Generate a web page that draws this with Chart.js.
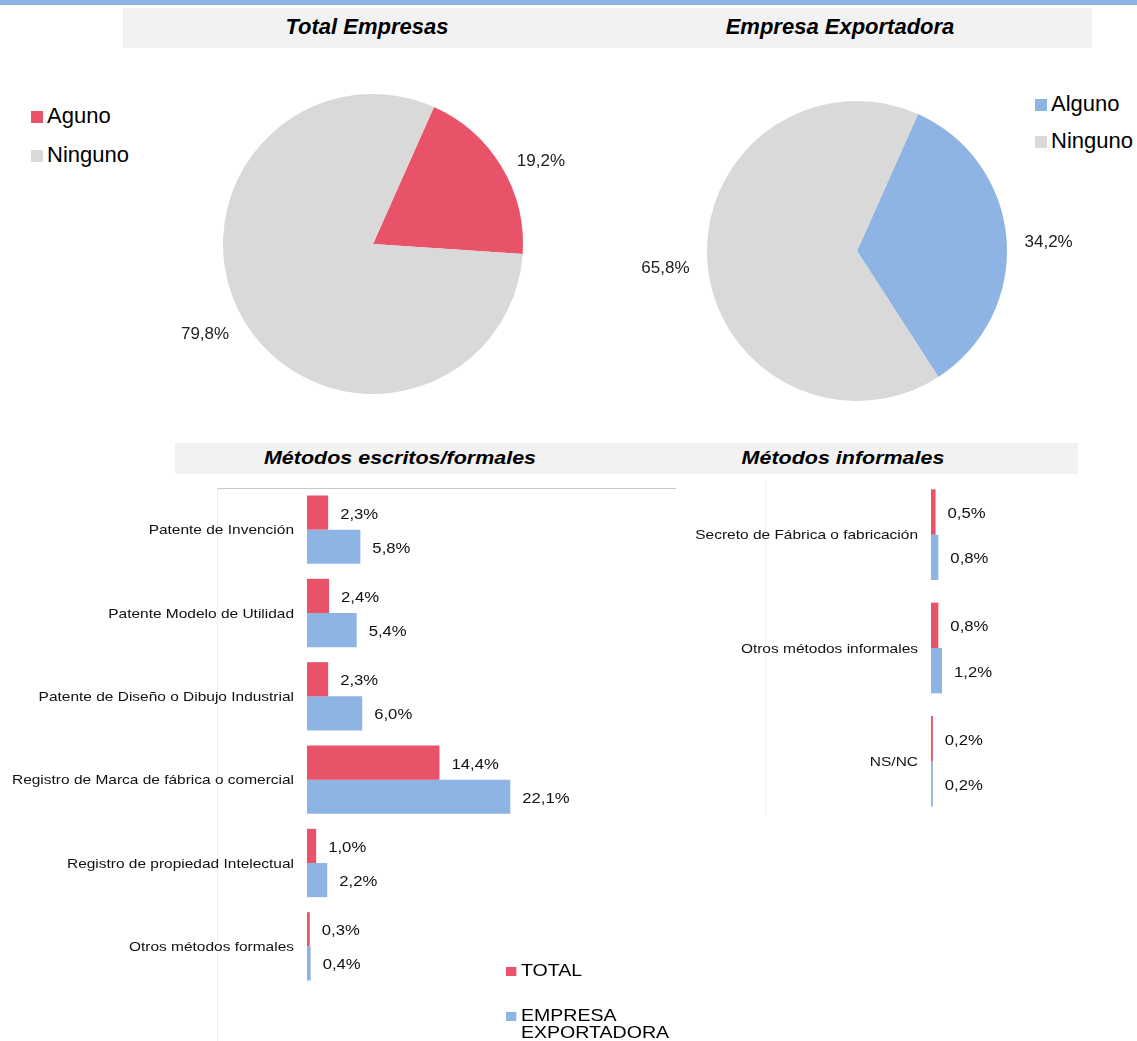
<!DOCTYPE html>
<html>
<head>
<meta charset="utf-8">
<script src="https://cdn.jsdelivr.net/npm/chart.js@4.4.1/dist/chart.umd.min.js"></script>
<style>
  body { margin: 0; width: 1137px; height: 1041px; position: relative; background: #fff; font-family: "Liberation Sans", Arial, sans-serif; overflow: hidden; }
  .abs { position: absolute; }
  .band { left: 0; top: 0; width: 1137px; height: 5px; background: #8db3e2; }
  .head { background: #f2f2f2; }
  .t1 { font-family: "Liberation Sans Narrow", "Arial Narrow", "Liberation Sans", sans-serif; font-weight: bold; font-style: italic; font-size: 22px; color: #000; }
  .t2 { font-weight: bold; font-style: italic; font-size: 19px; color: #000; transform: scaleX(1.13); }
  .leg { font-size: 22px; color: #000; }
  .sq { display: inline-block; width: 12px; height: 12px; margin-right: 4px; }
  .leg2 { font-size: 17px; color: #000; line-height: 17px; transform: scaleX(1.15); transform-origin: left center; }
</style>
</head>
<body>
<div class="abs band"></div>
<div class="abs head" style="left:123px;top:8px;width:969px;height:40px;"></div>
<div class="abs t1" style="left:167px;top:14px;width:400px;text-align:center;">Total Empresas</div>
<div class="abs t1" style="left:640px;top:14px;width:400px;text-align:center;">Empresa Exportadora</div>

<div class="abs leg" style="left:31px;top:103px;"><span class="sq" style="background:#e9536a"></span>Aguno</div>
<div class="abs leg" style="left:31px;top:142px;"><span class="sq" style="background:#d9d9d9"></span>Ninguno</div>
<div class="abs leg" style="left:1035px;top:91px;"><span class="sq" style="background:#8eb4e3"></span>Alguno</div>
<div class="abs leg" style="left:1035px;top:128px;"><span class="sq" style="background:#d9d9d9"></span>Ninguno</div>

<div class="abs" style="left:150px;top:79px;width:450px;height:330px;"><canvas id="pie1"></canvas></div>
<div class="abs" style="left:634px;top:86px;width:450px;height:330px;"><canvas id="pie2"></canvas></div>

<div class="abs head" style="left:175px;top:443px;width:903px;height:31px;"></div>
<div class="abs t2" style="left:200px;top:447px;width:400px;text-align:center;">Métodos escritos/formales</div>
<div class="abs t2" style="left:643px;top:447px;width:400px;text-align:center;">Métodos informales</div>

<div class="abs" style="left:217px;top:488px;width:458px;height:553px;border-top:1px solid #c8c8c8;border-left:1px solid #f0f0f0;"></div>
<div class="abs" style="left:765px;top:480px;width:1px;height:335px;background:#f0f0f0;"></div>

<div class="abs" style="left:0px;top:488px;width:675px;height:500px;"><canvas id="bar1"></canvas></div>
<div class="abs" style="left:680px;top:478px;width:457px;height:340px;"><canvas id="bar2"></canvas></div>

<div class="abs leg2" style="left:506px;top:962px;"><span class="sq" style="width:9px;height:9px;background:#e9536a"></span>TOTAL</div>
<div class="abs leg2" style="left:506px;top:1007px;"><span class="sq" style="width:9px;height:9px;background:#8eb4e3"></span>EMPRESA<br><span style="padding-left:13px">EXPORTADORA</span></div>

<script>
// Gráficos de torta
const pieLabels1 = ['Aguno', 'Ninguno'];
const pieValues1 = [19.2, 79.8];
const pieLabels2 = ['Alguno', 'Ninguno'];
const pieValues2 = [34.2, 65.8];

// Métodos escritos/formales
const formalCats = ['Patente de Invención', 'Patente Modelo de Utilidad', 'Patente de Diseño o Dibujo Industrial',
  'Registro de Marca de fábrica o comercial', 'Registro de propiedad Intelectual', 'Otros métodos formales'];
const formalTotal = [2.3, 2.4, 2.3, 14.4, 1.0, 0.3];
const formalExport = [5.8, 5.4, 6.0, 22.1, 2.2, 0.4];

// Métodos informales
const informalCats = ['Secreto de Fábrica o fabricación', 'Otros métodos informales', 'NS/NC'];
const informalTotal = [0.5, 0.8, 0.2];
const informalExport = [0.8, 1.2, 0.2];

const RED = '#e9536a';
const BLUE = '#8eb4e3';
const GRAY = '#d9d9d9';

const fmt = v => v.toFixed(1).replace('.', ',') + '%';

// etiquetas fuera de la torta
const pieLabelPlugin = {
  id: 'pieLabels',
  afterDatasetsDraw(chart) {
    const ctx = chart.ctx;
    const meta = chart.getDatasetMeta(0);
    ctx.save();
    ctx.font = '17px "Liberation Sans", Arial, sans-serif';
    ctx.fillStyle = '#222';
    ctx.textBaseline = 'middle';
    meta.data.forEach((arc, i) => {
      const p = arc.getProps(['x', 'y', 'startAngle', 'endAngle', 'outerRadius']);
      const mid = (p.startAngle + p.endAngle) / 2;
      const r = p.outerRadius + 18;
      const cx = Math.cos(mid);
      ctx.textAlign = cx >= 0 ? 'left' : 'right';
      ctx.fillText(fmt(chart.data.datasets[0].data[i]), p.x + cx * r, p.y + Math.sin(mid) * r + 4);
    });
    ctx.restore();
  }
};

function makePie(id, labels, values, colors) {
  return new Chart(document.getElementById(id), {
    type: 'pie',
    data: {
      labels: labels,
      datasets: [{ data: values, backgroundColor: colors, borderWidth: 0 }]
    },
    options: {
      responsive: true,
      maintainAspectRatio: false,
      animation: false,
      rotation: 24,
      layout: { padding: { left: 73, right: 77, top: 15, bottom: 15 } },
      plugins: { legend: { display: false }, tooltip: { enabled: false } }
    },
    plugins: [pieLabelPlugin]
  });
}

makePie('pie1', pieLabels1, pieValues1, [RED, GRAY]);
makePie('pie2', pieLabels2, pieValues2, [BLUE, GRAY]);

// categorías a la izquierda y valores al final de cada barra
const barTextPlugin = {
  id: 'barText',
  afterDatasetsDraw(chart) {
    const ctx = chart.ctx;
    const yScale = chart.scales.y;
    const area = chart.chartArea;
    ctx.save();
    ctx.fillStyle = '#111';
    ctx.textBaseline = 'middle';
    // categorías
    ctx.font = '13px "Liberation Sans", Arial, sans-serif';
    chart.data.labels.forEach((lab, i) => {
      const y = yScale.getPixelForValue(i) + 1;
      ctx.save();
      ctx.translate(area.left - 13, y);
      ctx.scale(1.19, 1);
      ctx.textAlign = 'right';
      ctx.fillText(lab, 0, 0);
      ctx.restore();
    });
    // valores
    ctx.font = '14.5px "Liberation Sans", Arial, sans-serif';
    chart.data.datasets.forEach((ds, di) => {
      chart.getDatasetMeta(di).data.forEach((bar, i) => {
        ctx.save();
        ctx.translate(bar.x + 12, bar.y + 2);
        ctx.scale(1.15, 1);
        ctx.textAlign = 'left';
        ctx.fillText(fmt(ds.data[i]), 0, 0);
        ctx.restore();
      });
    });
    ctx.restore();
  }
};

function makeBars(id, cats, total, exp, maxX, catPct, padLeft) {
  return new Chart(document.getElementById(id), {
    type: 'bar',
    data: {
      labels: cats,
      datasets: [
        { label: 'TOTAL', data: total, backgroundColor: RED, borderWidth: 0, barPercentage: 1, categoryPercentage: catPct },
        { label: 'EMPRESA EXPORTADORA', data: exp, backgroundColor: BLUE, borderWidth: 0, barPercentage: 1, categoryPercentage: catPct }
      ]
    },
    options: {
      indexAxis: 'y',
      responsive: true,
      maintainAspectRatio: false,
      animation: false,
      layout: { padding: { left: padLeft, right: 0, top: 0, bottom: 0 } },
      plugins: { legend: { display: false }, tooltip: { enabled: false } },
      scales: {
        x: { display: false, min: 0, max: maxX },
        y: { display: false }
      }
    },
    plugins: [barTextPlugin]
  });
}

makeBars('bar1', formalCats, formalTotal, formalExport, 40, 0.82, 307);
makeBars('bar2', informalCats, informalTotal, informalExport, 22.4, 0.8, 251);
</script>
</body>
</html>
